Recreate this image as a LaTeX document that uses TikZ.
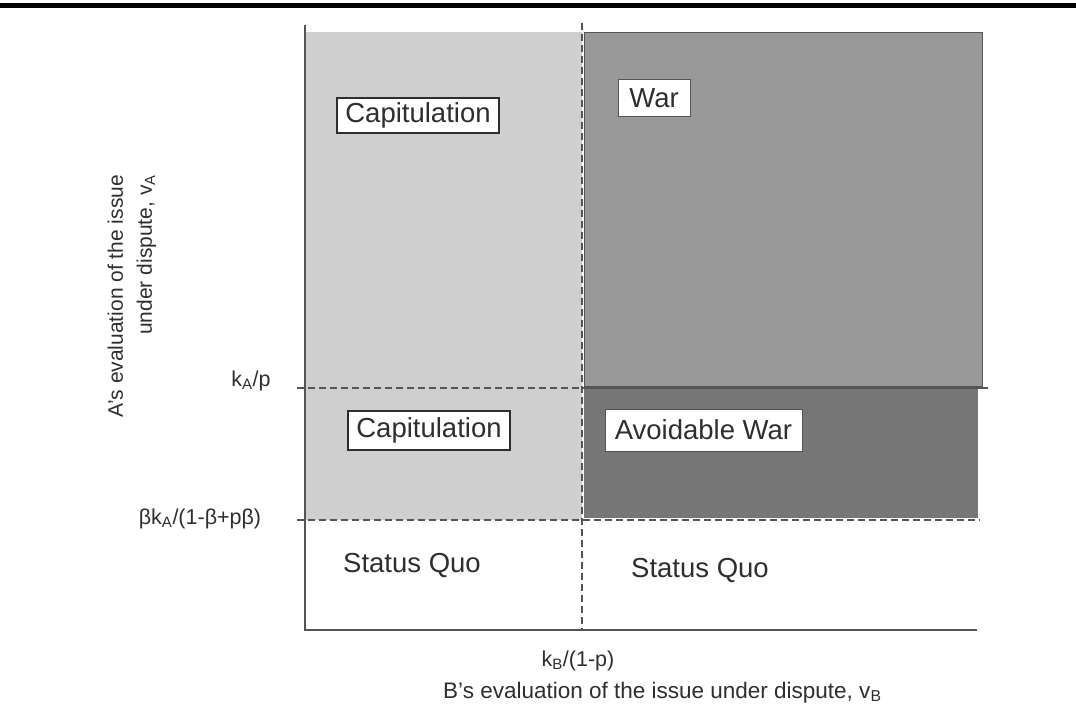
\documentclass[tikz,border=0pt]{standalone}
\usepackage{fontspec}
\setmainfont{Liberation Sans}
\definecolor{lightreg}{HTML}{CFCFCF}
\definecolor{warreg}{HTML}{999999}
\definecolor{avoidreg}{HTML}{767676}
\definecolor{ink}{HTML}{2E2E2E}
\definecolor{edge}{HTML}{555555}
\begin{document}
\begin{tikzpicture}[x=1pt,y=-1pt,
  region/.style={font=\fontsize{27.5}{32}\selectfont, text=ink, inner sep=0pt},
  thickbox/.style={region, draw=ink, line width=2.5pt, fill=white},
  thinbox/.style={region, draw=edge, line width=1pt, fill=white},
  ticklab/.style={font=\fontsize{21.5}{25}\selectfont, text=ink, inner sep=0pt},
  dashline/.style={draw=edge, line width=1.2pt, dash pattern=on 7pt off 4pt},
  axisline/.style={draw=edge, line width=1.5pt}]
\useasboundingbox (0,0) rectangle (1076,719);
% top rule
\draw[line width=5pt, black] (0,5.5) -- (1076,5.5);
% regions
\fill[lightreg] (305,32) rectangle (582,520);
\filldraw[fill=warreg, draw=edge, line width=0.8pt] (584,32) rectangle (982,386);
\fill[avoidreg] (584,388) rectangle (978,518);
% lines
\draw[axisline] (582,388) -- (988,388);
\draw[dashline] (297,388) -- (582,388);
\draw[dashline] (297,520) -- (980,520);
\draw[dashline] (582,23) -- (582,630);
\draw[axisline] (305,25) -- (305,630) -- (977,630);
% region labels
\node[thickbox, minimum width=162pt, minimum height=35pt] (cap1) at (418,115.5) {Capitulation};
\node[thickbox, minimum width=162pt, minimum height=39pt] (cap2) at (429,430.5) {Capitulation};
\node[thinbox, minimum width=72pt, minimum height=37pt] (war) at (654,98.5) {War};
\node[thinbox, minimum width=197pt, minimum height=42pt] (avw) at (703.5,430) {Avoidable War};
\node[region] (sq1) at (412,565) {Status Quo};
\node[region] (sq2) at (700,570) {Status Quo};
% tick labels
\node[ticklab, anchor=base] (ka) at (251,386) {k\textsubscript{A}/p};
\node[ticklab, anchor=base] (kb) at (200,524) {βk\textsubscript{A}/(1-β+pβ)};
\node[ticklab, anchor=base] (kbp) at (578,666) {k\textsubscript{B}/(1-p)};
% axis labels
\node[ticklab, anchor=base west, font=\fontsize{22.5}{25}\selectfont] (xlab) at (443,698) {B's evaluation of the issue under dispute, v\textsubscript{B}};
\node[ticklab, rotate=90, align=right, font=\fontsize{21}{29}\selectfont] (ylab) at (132,296) {A's evaluation of the issue\\under dispute, v\textsubscript{A}};
\end{tikzpicture}
\end{document}
